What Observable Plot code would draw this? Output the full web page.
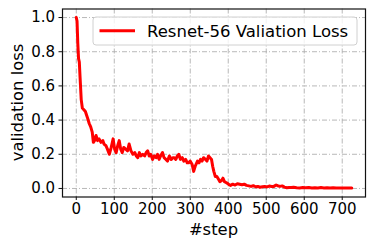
<!DOCTYPE html>
<html>
<head>
<meta charset="utf-8">
<script src="https://cdn.jsdelivr.net/npm/d3@7"></script>
<script src="https://cdn.jsdelivr.net/npm/@observablehq/plot@0.6"></script>
<style>
  html, body { margin: 0; padding: 0; background: #fff; }
  #chart { width: 374px; height: 249px; }
</style>
</head>
<body>
<div id="chart"></div>
<script>
const steps = [0,2,4,6,8,10,13,16,20,24,27,30,34,38,42,45,48,52,56,60,65,70,73,78,82,87,92,97,101,105,109,113,117,121,125,130,135,139,144,149,154,158,162,166,170,175,180,184,188,192,196,201,205,210,214,218,222,227,231,236,240,245,250,254,258,262,266,270,274,279,283,288,292,296,300,305,309,313,319,323,327,331,335,340,344,348,352,356,359,362,366,370,374,378,382,386,390,394,398,402,406,412,418,424,430,436,442,448,454,460,466,472,478,484,490,496,502,508,514,520,526,530,536,542,548,554,560,566,572,580,588,596,604,612,620,628,636,644,652,660,668,676,684,692,700,708,716,725];
const losses = [1.00,0.98,0.85,0.76,0.74,0.65,0.52,0.47,0.46,0.45,0.43,0.41,0.38,0.36,0.33,0.27,0.28,0.31,0.28,0.29,0.27,0.28,0.26,0.25,0.23,0.20,0.24,0.29,0.23,0.21,0.25,0.28,0.23,0.21,0.24,0.23,0.22,0.26,0.22,0.20,0.21,0.19,0.18,0.21,0.19,0.20,0.19,0.21,0.22,0.19,0.20,0.17,0.19,0.18,0.20,0.17,0.19,0.21,0.18,0.17,0.16,0.19,0.17,0.18,0.18,0.17,0.19,0.20,0.17,0.18,0.16,0.17,0.15,0.15,0.16,0.14,0.10,0.13,0.16,0.15,0.17,0.16,0.18,0.17,0.16,0.19,0.18,0.17,0.13,0.10,0.07,0.07,0.055,0.04,0.045,0.06,0.04,0.035,0.03,0.022,0.018,0.025,0.02,0.028,0.025,0.022,0.025,0.018,0.015,0.012,0.016,0.01,0.012,0.007,0.01,0.012,0.009,0.014,0.011,0.012,0.02,0.016,0.012,0.015,0.008,0.004,0.006,0.005,0.007,0.004,0.003,0.005,0.004,0.006,0.003,0.004,0.003,0.005,0.003,0.004,0.002,0.004,0.003,0.002,0.003,0.002,0.002,0.002];
const xTicks = [0,100,200,300,400,500,600,700];
const yTicks = [0.0,0.2,0.4,0.6,0.8,1.0];
const seriesName = "Resnet-56 Valiation Loss";
const xLabel = "#step";
const yLabel = "validation loss";

const data = steps.map((s, i) => ({step: s, loss: losses[i]}));

const W = 374, H = 249;
const mL = 62, mR = 9, mT = 8.5, mB = 52.5;
const FONT = "DejaVu Sans, Liberation Sans, sans-serif";
const gridDash = "5,2,1,2";

const chart = Plot.plot({
  width: W,
  height: H,
  marginLeft: mL,
  marginRight: mR,
  marginTop: mT,
  marginBottom: mB,
  style: {fontFamily: FONT, fontSize: "15px", color: "black", background: "white"},
  x: {domain: [-36.25, 761.25]},
  y: {domain: [-0.05, 1.05]},
  marks: [
    Plot.gridX(xTicks, {stroke: "#b0b0b0", strokeOpacity: 1, strokeWidth: 0.9, strokeDasharray: gridDash}),
    Plot.gridY(yTicks, {stroke: "#b0b0b0", strokeOpacity: 1, strokeWidth: 0.9, strokeDasharray: gridDash}),
    Plot.line(data, {x: "step", y: "loss", stroke: "red", strokeWidth: 3, strokeLinejoin: "round"}),
    Plot.frame({stroke: "#111", strokeWidth: 1.2}),
    Plot.axisX(xTicks, {tickSize: 3.5, tickPadding: 3, fontSize: 15, label: null, stroke: "#111"}),
    Plot.axisY(yTicks, {tickSize: 3.5, tickPadding: 4, fontSize: 15, label: null, tickFormat: d3.format(".1f"), stroke: "#111"})
  ]
});

document.getElementById("chart").appendChild(chart);

// Axis titles and legend (layout only)
const svg = d3.select(chart);
const frameCx = mL + (W - mL - mR) / 2;
const frameCy = mT + (H - mT - mB) / 2;

svg.append("text")
  .attr("x", frameCx).attr("y", 234.5)
  .attr("text-anchor", "middle")
  .style("font-family", FONT).style("font-size", "16.4px").attr("fill", "black")
  .text(xLabel);

svg.append("text")
  .attr("transform", `translate(23,${frameCy}) rotate(-90)`)
  .attr("text-anchor", "middle")
  .style("font-family", FONT).style("font-size", "16.4px").attr("fill", "black")
  .text(yLabel);

const lg = svg.append("g");
lg.append("rect")
  .attr("x", 93).attr("y", 17).attr("width", 264).attr("height", 28).attr("rx", 3)
  .attr("fill", "white").attr("fill-opacity", 0.8).attr("stroke", "#d0d0d0").attr("stroke-width", 1);
lg.append("line")
  .attr("x1", 99.5).attr("x2", 135).attr("y1", 30.7).attr("y2", 30.7)
  .attr("stroke", "red").attr("stroke-width", 3);
lg.append("text")
  .attr("x", 147).attr("y", 36.7)
  .attr("text-anchor", "start")
  .style("font-family", FONT).style("font-size", "16.5px").attr("fill", "black")
  .text(seriesName);
</script>
</body>
</html>
